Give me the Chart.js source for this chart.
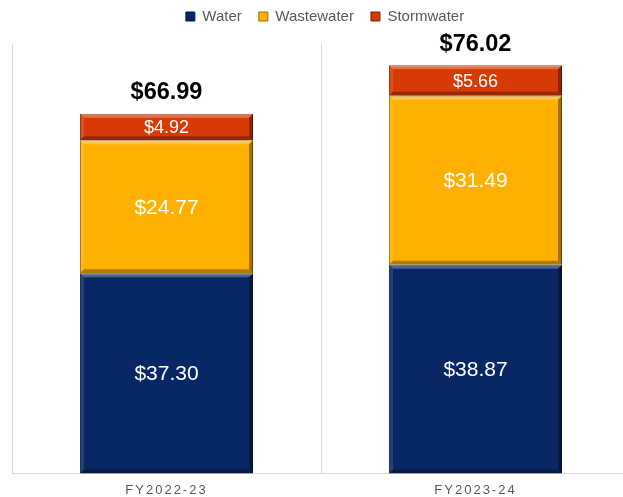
<!DOCTYPE html>
<html>
<head>
<meta charset="utf-8">
<script src="https://cdn.jsdelivr.net/npm/chart.js@4/dist/chart.umd.min.js"></script>
<style>
  html, body { margin: 0; padding: 0; background: #fff; overflow: hidden; }
  #wrap { width: 623px; height: 497px; overflow: hidden; }
</style>
</head>
<body>
<div id="wrap"><canvas id="grafico" width="632" height="507"></canvas></div>
<script>
// Dados do gráfico
const anos = ['FY2022-23', 'FY2023-24'];
const agua = [37.30, 38.87];
const esgoto = [24.77, 31.49];
const pluvial = [4.92, 5.66];
const totais = [66.99, 76.02];

const fonte = "'Liberation Sans', Arial, sans-serif";
const cinza = '#595959';

// Espaço extra abaixo da legenda e pequeno deslocamento à direita
const legendaEspaco = {
  id: 'legendaEspaco',
  beforeInit(chart) {
    const leg = chart.legend;
    const fitOriginal = leg.fit;
    leg.fit = function () {
      fitOriginal.call(this);
      this.height += 10;
    };
    const drawOriginal = leg.draw;
    leg.draw = function (area) {
      const c = this.ctx;
      c.save();
      c.translate(4, 0);
      drawOriginal.call(this, area);
      c.restore();
    };
  }
};

// Efeito de chanfro + rótulos dentro das barras + totais
const chanfro = {
  id: 'chanfro',
  afterDatasetsDraw(chart) {
    const ctx = chart.ctx;
    ctx.save();
    chart.data.datasets.forEach((ds, i) => {
      const meta = chart.getDatasetMeta(i);
      meta.data.forEach((bar, j) => {
        const l = bar.x - bar.width / 2, r = bar.x + bar.width / 2;
        const t = Math.min(bar.y, bar.base), b = Math.max(bar.y, bar.base);
        const e = 4;
        // topo claro
        ctx.fillStyle = 'rgba(255,255,255,0.28)';
        ctx.beginPath();
        ctx.moveTo(l, t); ctx.lineTo(r, t); ctx.lineTo(r - e, t + e); ctx.lineTo(l + e, t + e); ctx.closePath();
        ctx.fill();
        // esquerda clara
        ctx.fillStyle = 'rgba(255,255,255,0.12)';
        ctx.beginPath();
        ctx.moveTo(l, t); ctx.lineTo(l + e, t + e); ctx.lineTo(l + e, b - e); ctx.lineTo(l, b); ctx.closePath();
        ctx.fill();
        // direita escura
        ctx.fillStyle = 'rgba(0,0,0,0.35)';
        ctx.beginPath();
        ctx.moveTo(r, t); ctx.lineTo(r, b); ctx.lineTo(r - e, b - e); ctx.lineTo(r - e, t + e); ctx.closePath();
        ctx.fill();
        // base escura
        ctx.fillStyle = 'rgba(0,0,0,0.3)';
        ctx.beginPath();
        ctx.moveTo(l, b); ctx.lineTo(r, b); ctx.lineTo(r - e, b - e); ctx.lineTo(l + e, b - e); ctx.closePath();
        ctx.fill();

        // rótulo do valor
        const v = ds.data[j];
        ctx.fillStyle = '#ffffff';
        ctx.font = (i === 2 ? '18px ' : '21px ') + fonte;
        ctx.textAlign = 'center';
        ctx.textBaseline = 'middle';
        ctx.fillText('$' + v.toFixed(2), bar.x, (t + b) / 2 + 1);
      });
    });

    // totais acima das barras
    const y = chart.scales.y;
    const topo = chart.getDatasetMeta(0).data;
    ctx.fillStyle = '#000000';
    ctx.font = 'bold 23.5px ' + fonte;
    ctx.textAlign = 'center';
    ctx.textBaseline = 'middle';
    totais.forEach((tot, j) => {
      ctx.fillText('$' + tot.toFixed(2), topo[j].x, y.getPixelForValue(tot) - 21);
    });
    ctx.restore();
    // espaçamento das letras dos rótulos do eixo x (desenhados depois)
    ctx.letterSpacing = '2px';
  },
  afterDraw(chart) {
    chart.ctx.letterSpacing = '0px';
  }
};

const ctx = document.getElementById('grafico').getContext('2d');
new Chart(ctx, {
  type: 'bar',
  data: {
    labels: anos,
    datasets: [
      { label: 'Water', data: agua, backgroundColor: '#072864', borderColor: '#041a45', borderWidth: 1 },
      { label: 'Wastewater', data: esgoto, backgroundColor: '#FFB000', borderColor: '#9a6a00', borderWidth: 1 },
      { label: 'Stormwater', data: pluvial, backgroundColor: '#D83A05', borderColor: '#7a2000', borderWidth: 1 }
    ]
  },
  options: {
    responsive: false,
    animation: false,
    layout: { padding: { left: 12, right: 2, top: -8, bottom: 0 } },
    datasets: { bar: { categoryPercentage: 1, barPercentage: 0.56 } },
    plugins: {
      legend: {
        position: 'top',
        labels: {
          boxWidth: 9, boxHeight: 9, padding: 17,
          color: cinza, font: { family: fonte, size: 15 }
        }
      },
      tooltip: { enabled: false }
    },
    scales: {
      x: {
        stacked: true,
        grid: { display: true, offset: true, color: '#d9d9d9', drawTicks: false },
        border: { display: true, color: '#d9d9d9' },
        ticks: { color: cinza, padding: 9, font: { family: fonte, size: 13 }, z: 1 }
      },
      y: {
        stacked: true,
        display: false,
        min: 0,
        max: 80
      }
    }
  },
  plugins: [legendaEspaco, chanfro]
});
</script>
</body>
</html>
